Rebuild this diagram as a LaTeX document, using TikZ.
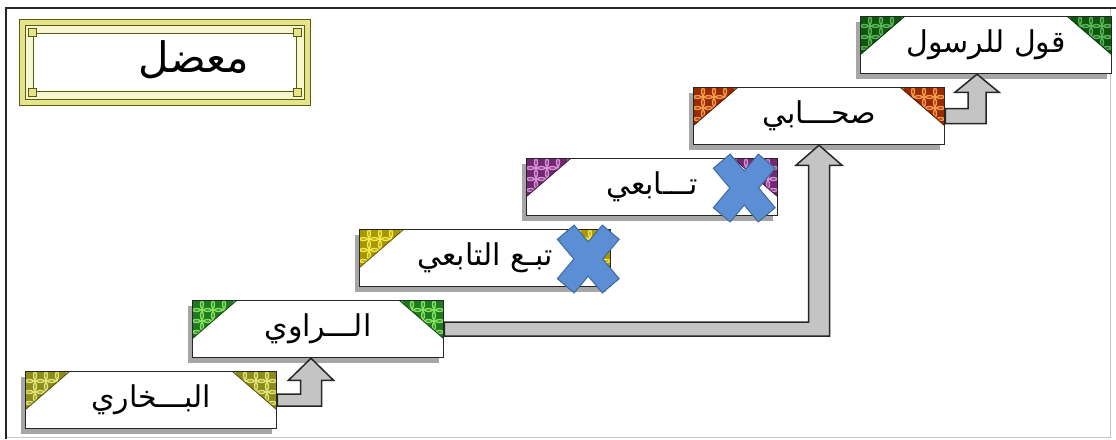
\documentclass[tikz,border=0pt]{standalone}
\usepackage{fontspec}
\usepackage{xcolor}
\usepackage{tikz}
\usetikzlibrary{calc,shadows}
\TeXXeTstate=1
\newfontfamily\arabicfont[Script=Arabic]{DejaVu Sans}
\definecolor{olvD}{HTML}{8C8C1A}
\definecolor{olvL}{HTML}{E2E27A}
\definecolor{grnD}{HTML}{1E7A1E}
\definecolor{grnL}{HTML}{86E060}
\definecolor{ylwD}{HTML}{A89800}
\definecolor{ylwL}{HTML}{F2E64A}
\definecolor{purD}{HTML}{742874}
\definecolor{purL}{HTML}{D690D6}
\definecolor{orgD}{HTML}{9A2A00}
\definecolor{orgL}{HTML}{F29A50}
\definecolor{dgrD}{HTML}{0E560E}
\definecolor{dgrL}{HTML}{5AB45A}
\definecolor{arrG}{HTML}{C4C4C4}
\definecolor{xblu}{HTML}{5B8ED4}
\definecolor{xbluD}{HTML}{3F6A9A}
\definecolor{ttlY}{HTML}{E4E48A}
\definecolor{ttlL}{HTML}{F6F6D0}
\definecolor{ttlD}{HTML}{5A5A10}
\tikzset{
  stepbox/.style ={draw=black!85, line width=1.5pt, fill=white, inner sep=0pt,
                   minimum width=251pt, minimum height=57pt,
                   font=\arabicfont\fontsize{30}{30}\selectfont,
                   drop shadow={shadow xshift=-5pt, shadow yshift=-5pt, fill=black!35, opacity=1}},
  orn/.style 2 args={path picture={
      \foreach \s/\a/\ns in {1/north west/-1,-1/north east/1}{
        \begin{scope}
          \clip (path picture bounding box.\a) -- ++(\s*44pt,0pt) -- ++(\ns*44pt,-38pt) -- cycle;
          \fill[fill=#1] (path picture bounding box.\a) rectangle ++(\s*44pt,-38pt);
          \foreach \u in {0,...,4} \foreach \v in {0,...,4}
            \draw[draw=#2, line width=1.4pt] ($(path picture bounding box.\a)+(\s*\u*11pt+\s*4pt,-\v*11pt-4pt)$) circle (7pt);
        \end{scope}
        \draw[draw=#1!60!black, line width=0.9pt] ($(path picture bounding box.\a)+(\s*44pt,0pt)$) -- ++(\ns*44pt,-38pt);
      }}},
  stair/.style   ={fill=arrG, draw=black!85, line width=1.5pt, line join=miter},
  crossmark/.style={fill=xblu, draw=xbluD, line width=1pt, line join=miter},
  titlebox/.style={draw=ttlD, double=ttlY, double distance=5pt, line width=1.2pt, fill=ttlL,
                   minimum width=285pt, minimum height=80pt, inner sep=0pt},
}
% block arrow: from, tip, bar half, shaft half, head half, head length
\newcommand\stairarrow[6]{%
  \draw[stair] let \p1=#1, \p2=#2 in
    (\x1,\y1+#3) -- (\x2-#4,\y1+#3) -- (\x2-#4,\y2-#6) -- (\x2-#5,\y2-#6) -- (\x2,\y2)
    -- (\x2+#5,\y2-#6) -- (\x2+#4,\y2-#6) -- (\x2+#4,\y1-#3) -- (\x1,\y1-#3) -- cycle;}
\begin{document}
\begin{tikzpicture}[x=1pt,y=-1pt]
  \useasboundingbox (0,0) rectangle (1116,439);
  % outer frame
  \draw[gray!45, line width=1pt] (6,437) -- (1110,437) -- (1110,8);
  \draw[black!85, line width=2.4pt] (6,439) -- (6,8) -- (1116,8);
  % title
  \node[titlebox] (title) at (165,62.5) {};
  \draw[ttlD, line width=0.9pt, fill=white] ($(title.north west)+(12,12)$) rectangle ($(title.south east)+(-12,-12)$);
  \foreach \a/\dx/\dy in {north west/1/1,north east/-1/1,south west/1/-1,south east/-1/-1}
    \draw[ttlD, line width=0.9pt, fill=ttlY] ($(title.\a)+(\dx*7,\dy*7)$) rectangle ++(\dx*8,\dy*8);
  \node[font=\arabicfont\fontsize{42}{42}\selectfont] (titletext) at (194,60) {\beginR معضل\endR};
  % chain of narrators
  \foreach \name/\txt/\dk/\lt [count=\i from 0] in
    {bukhari/البـــخاري/olvD/olvL, rawi/الـــراوي/grnD/grnL, tabi2/تبـع التابعي/ylwD/ylwL,
     tabii/تـــابعي/purD/purL, sahabi/صحـــابي/orgD/orgL, rasul/قول للرسول/dgrD/dgrL}
    \node[stepbox, orn={\dk}{\lt}] (\name) at (151+167*\i,400-71*\i) {\beginR\txt\endR};
  % arrows
  \stairarrow{(bukhari.east)}{($(rawi.south)+(-7,0)$)}{6pt}{10.5pt}{22.5pt}{22pt}
  \stairarrow{(rawi.east)}{(sahabi.south)}{7pt}{10.5pt}{23pt}{20pt}
  \stairarrow{(sahabi.east)}{($(rasul.south)+(-9,0)$)}{7.5pt}{9pt}{22pt}{18pt}
  % crossed out links
  \coordinate (xa) at ($(tabii.east)+(-34,1)$);
  \coordinate (xb) at ($(tabi2.east)+(-23,1)$);
  \foreach \c in {xa,xb}
    \draw[crossmark, shift={(\c)}] (-14.1,-33.9) -- (0,-17.1) -- (14.1,-33.9) -- (30.9,-19.7)
      -- (14.4,0) -- (30.9,19.7) -- (14.1,33.9) -- (0,17.1) -- (-14.1,33.9) -- (-30.9,19.7)
      -- (-14.4,0) -- (-30.9,-19.7) -- cycle;
\end{tikzpicture}
\end{document}
